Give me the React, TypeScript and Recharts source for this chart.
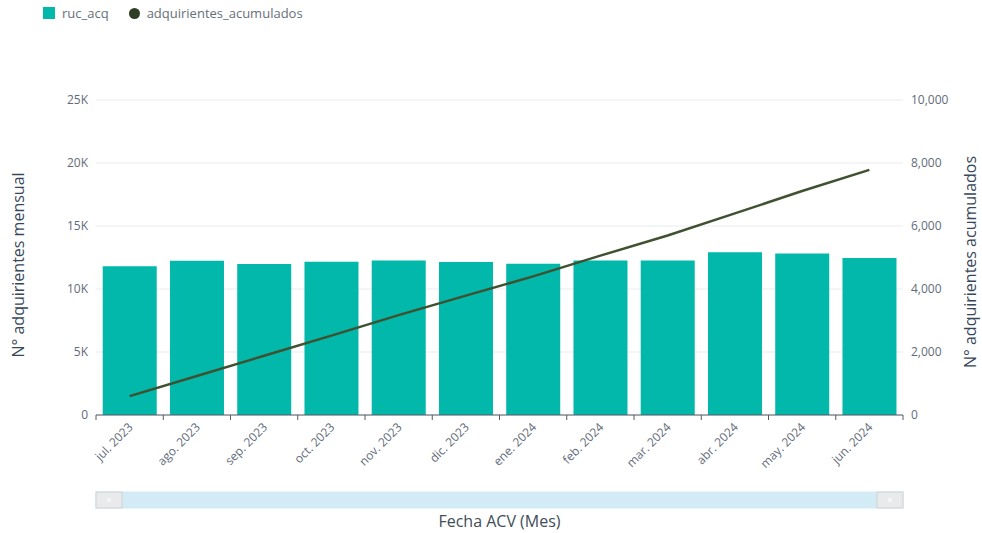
import React from 'react';
import {
  ComposedChart,
  Bar,
  Line,
  XAxis,
  YAxis,
  CartesianGrid,
  Brush,
} from 'recharts';

const MONTHS = [
  'jul. 2023', 'ago. 2023', 'sep. 2023', 'oct. 2023', 'nov. 2023', 'dic. 2023',
  'ene. 2024', 'feb. 2024', 'mar. 2024', 'abr. 2024', 'may. 2024', 'jun. 2024',
];
const RUC_ACQ = [11800, 12250, 11990, 12170, 12270, 12150, 12010, 12270, 12270, 12910, 12810, 12470];
const ACUMULADOS = [600, 1240, 1880, 2520, 3170, 3790, 4400, 5060, 5700, 6400, 7110, 7780];
const LEFT_TICKS = [0, 5000, 10000, 15000, 20000, 25000];
const RIGHT_TICKS = [0, 2000, 4000, 6000, 8000, 10000];

const data = MONTHS.map((month, i) => ({
  month,
  ruc_acq: RUC_ACQ[i],
  adquirientes_acumulados: ACUMULADOS[i],
}));

const W = 982;
const H = 533;
const PLOT_LEFT = 96;
const PLOT_RIGHT = 903;
const AXIS_Y = 415;
const BAND = (PLOT_RIGHT - PLOT_LEFT) / MONTHS.length;

const FONT = '"Open Sans", "Noto Sans", sans-serif';
const TEAL = '#01b8aa';
const OLIVE = '#3f5130';
const TICK_COLOR = '#5f6b7a';
const AXIS_COLOR = '#545b64';
const TITLE_COLOR = '#37475a';

function MonthTick(props: any) {
  const { x, payload, index } = props;
  const left = x - BAND / 2;
  const last = index === MONTHS.length - 1;
  const ty = AXIS_Y + 13;
  return (
    <g>
      <line x1={left} x2={left} y1={AXIS_Y} y2={AXIS_Y + 5} stroke={AXIS_COLOR} />
      {last && (
        <line x1={x + BAND / 2} x2={x + BAND / 2} y1={AXIS_Y} y2={AXIS_Y + 5} stroke={AXIS_COLOR} />
      )}
      <text
        x={x + 4}
        y={ty}
        textAnchor="end"
        transform={`rotate(-45, ${x + 4}, ${ty})`}
        fontSize={12}
        fontFamily={FONT}
        fill={TICK_COLOR}
      >
        {payload.value}
      </text>
    </g>
  );
}

function AxisTitle({ cx, cy, text }: { cx: number; cy: number; text: string }) {
  return (
    <text
      x={cx}
      y={cy}
      textAnchor="middle"
      dominantBaseline="central"
      transform={`rotate(-90, ${cx}, ${cy})`}
      fontSize={16}
      fontFamily={FONT}
      fill={TITLE_COLOR}
    >
      {text}
    </text>
  );
}

function Traveller(props: any) {
  const { x, y, width, height } = props;
  const cx = x + width / 2;
  const cy = y + height / 2;
  return (
    <g>
      <rect x={x} y={y} width={width} height={height} fill="#e9eaeb" stroke="#d0d3d5" />
      <line x1={cx - 2} x2={cx + 2} y1={cy - 1} y2={cy - 1} stroke="#fff" />
      <line x1={cx - 2} x2={cx + 2} y1={cy + 1} y2={cy + 1} stroke="#fff" />
    </g>
  );
}

export default function App() {
  return (
    <div style={{ position: 'absolute', left: 0, top: 0, width: W, height: H, background: '#fff', fontFamily: FONT }}>
      <div style={{ position: 'absolute', left: 43, top: 4, display: 'flex', alignItems: 'center', fontSize: 13, color: '#687078' }}>
        <span style={{ width: 12, height: 12, background: TEAL, display: 'inline-block', marginRight: 7 }} />
        <span style={{ marginRight: 20 }}>ruc_acq</span>
        <span style={{ width: 11, height: 11, borderRadius: '50%', background: '#2f3d24', display: 'inline-block', marginRight: 7 }} />
        <span>adquirientes_acumulados</span>
      </div>

      <ComposedChart
        width={W}
        height={H}
        data={data}
        margin={{ top: 100, right: 0, bottom: 32, left: 0 }}
        barCategoryGap="10%"
      >
        <CartesianGrid yAxisId="left" vertical={false} stroke="#e9ebed" />
        <XAxis
          dataKey="month"
          interval={0}
          height={70}
          tickLine={false}
          axisLine={{ stroke: AXIS_COLOR }}
          tick={<MonthTick />}
        />
        <YAxis
          yAxisId="left"
          width={96}
          domain={[0, 25000]}
          ticks={LEFT_TICKS}
          axisLine={false}
          tickLine={false}
          tick={{ fill: TICK_COLOR, fontSize: 12, fontFamily: FONT }}
          tickFormatter={(v: number) => (v === 0 ? '0' : `${v / 1000}K`)}
          label={<AxisTitle cx={18} cy={265} text="N° adquirientes mensual" />}
        />
        <YAxis
          yAxisId="right"
          orientation="right"
          width={79}
          domain={[0, 10000]}
          ticks={RIGHT_TICKS}
          axisLine={false}
          tickLine={false}
          tick={{ fill: TICK_COLOR, fontSize: 12, fontFamily: FONT, textAnchor: 'start' }}
          tickFormatter={(v: number) => v.toLocaleString('en-US')}
          label={<AxisTitle cx={970} cy={262} text="N° adquirientes acumulados" />}
        />
        <Bar yAxisId="left" dataKey="ruc_acq" fill={TEAL} isAnimationActive={false} />
        <Line
          yAxisId="right"
          type="linear"
          dataKey="adquirientes_acumulados"
          stroke={OLIVE}
          strokeWidth={2.5}
          dot={false}
          activeDot={false}
          isAnimationActive={false}
        />
        <Brush
          dataKey="month"
          y={492}
          height={16}
          stroke="#d4ecf6"
          fill="#d4ecf6"
          travellerWidth={26}
          traveller={(p: any) => <Traveller {...p} />}
        />
      </ComposedChart>

      <div
        style={{
          position: 'absolute',
          left: PLOT_LEFT,
          width: PLOT_RIGHT - PLOT_LEFT,
          top: 510,
          textAlign: 'center',
          fontSize: 16,
          color: '#414d58',
        }}
      >
        Fecha ACV (Mes)
      </div>
    </div>
  );
}
